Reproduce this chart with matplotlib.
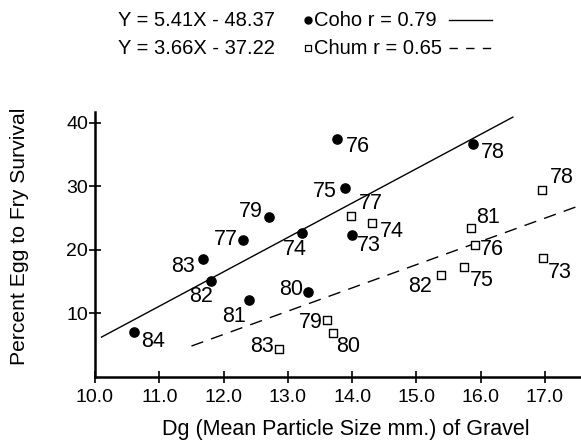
import matplotlib
matplotlib.use("Agg")
import matplotlib.pyplot as plt
from matplotlib.lines import Line2D
import numpy as np

plt.rcParams['font.family'] = ['Liberation Sans', 'DejaVu Sans']

# Coho (filled circles): year, Dg, survival %
coho_year = ["84", "83", "82", "81", "80", "77", "79", "74", "76", "75", "73", "78"]
coho_dg = [10.61, 11.68, 11.80, 12.39, 13.31, 12.30, 12.71, 13.22, 13.76, 13.89, 14.00, 15.88]
coho_surv = [7.1, 18.5, 15.1, 12.1, 13.3, 21.5, 25.1, 22.6, 37.4, 29.8, 22.4, 36.7]

# Chum (open squares)
chum_year = ["77", "74", "81", "76", "78", "82", "75", "73", "79", "80", "83"]
chum_dg = [13.98, 14.31, 15.85, 15.91, 16.95, 15.38, 15.74, 16.97, 13.61, 13.70, 12.86]
chum_surv = [25.3, 24.3, 23.5, 20.7, 29.5, 16.0, 17.3, 18.8, 8.9, 6.9, 4.4]

# regression equations from the header
coho_slope, coho_icpt = 5.41, -48.37
chum_slope, chum_icpt = 3.66, -37.22
coho_fit_x = [10.1, 16.5]
chum_fit_x = [11.5, 17.6]

# label offsets in pixels (dx, dy)
coho_off = [(19, -10), (-20, -7), (-10, -15), (-15, -16), (-17, 3), (-17, 1),
            (-18, 6), (-7, -16), (21, -7), (-20, -4), (17, -11), (20, -9)]
chum_off = [(20, 13), (20, -9), (17, 10), (17, -4), (20, 12), (-21, -11),
            (18, -13), (17, -15), (-16, -2), (15, -13), (-17, 3)]

W, H = 581, 446
fig = plt.figure(figsize=(W / 100, H / 100), dpi=100)
ax = fig.add_axes([95 / W, (H - 377) / H, (W - 95) / W, (377 - 112) / H])

cx = np.array(coho_fit_x)
ax.plot(cx, coho_slope * cx + coho_icpt, color='black', lw=1.0)
hx = np.array(chum_fit_x)
ax.plot(hx, chum_slope * hx + chum_icpt, color='black', lw=1.0, dashes=(9, 6))

ax.scatter(coho_dg, coho_surv, s=44, color='black', zorder=3)
ax.scatter(chum_dg, chum_surv, s=30, marker='s', facecolor='white',
           edgecolor='black', linewidths=1.0, zorder=3)

for yr, x, y, (dx, dy) in zip(coho_year, coho_dg, coho_surv, coho_off):
    ax.annotate(yr, (x, y), xytext=(dx, dy), textcoords='offset pixels',
                ha='center', va='center', fontsize=15.5)
for yr, x, y, (dx, dy) in zip(chum_year, chum_dg, chum_surv, chum_off):
    ax.annotate(yr, (x, y), xytext=(dx, dy), textcoords='offset pixels',
                ha='center', va='center', fontsize=15.5)

ax.set_xlim(10.0, 17.56)
ax.set_ylim(0, 41.7)
ax.set_xticks(np.arange(10, 18, 1.0))
ax.set_xticklabels([f"{v:.1f}" for v in np.arange(10, 18, 1.0)])
ax.set_yticks([10, 20, 30, 40])
ax.tick_params(direction='inout', length=8, width=1.2, labelsize=14)
ax.tick_params(axis='x', pad=5)
ax.tick_params(axis='y', pad=1)
for s in ['top', 'right']:
    ax.spines[s].set_visible(False)
for s in ['left', 'bottom']:
    ax.spines[s].set_linewidth(1.8)

ax.set_xlabel("Dg (Mean Particle Size mm.) of Gravel", fontsize=15.5)
ax.xaxis.set_label_coords((346 - 95) / (W - 95), -(419 - 377) / (377 - 112))
ax.set_ylabel("Percent Egg to Fry Survival", fontsize=15.2)
ax.yaxis.set_label_coords(-(95 - 29) / (W - 95), (377 - 236) / (377 - 112))

# header legend
fig.text(118 / W, 1 - 20 / H, "Y = 5.41X - 48.37", fontsize=14.5, va='center')
fig.text(118 / W, 1 - 48 / H, "Y = 3.66X - 37.22", fontsize=14.5, va='center')
fig.text(314 / W, 1 - 20 / H, "Coho r = 0.79", fontsize=14.5, va='center')
fig.text(314 / W, 1 - 48 / H, "Chum r = 0.65", fontsize=14.5, va='center')
fig.add_artist(Line2D([308 / W], [1 - 20 / H], transform=fig.transFigure,
                      marker='o', ms=5, color='black', lw=0))
fig.add_artist(Line2D([308 / W], [1 - 48 / H], transform=fig.transFigure,
                      marker='s', ms=5, mfc='white', mec='black', mew=0.9, lw=0))
fig.add_artist(Line2D([449 / W, 492 / W], [1 - 20 / H, 1 - 20 / H],
                      transform=fig.transFigure, color='black', lw=1.0))
fig.add_artist(Line2D([449 / W, 492 / W], [1 - 48 / H, 1 - 48 / H],
                      transform=fig.transFigure, color='black', lw=1.0,
                      dashes=(6, 6)))

fig.savefig("out.png", dpi=100)
